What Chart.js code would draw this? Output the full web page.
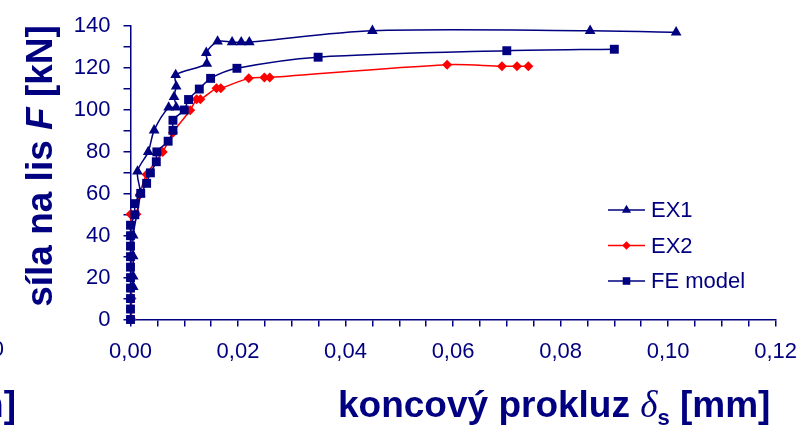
<!DOCTYPE html>
<html><head><meta charset="utf-8">
<script src="https://cdn.jsdelivr.net/npm/chart.js@4/dist/chart.umd.min.js"></script>
<style>html,body{margin:0;padding:0;background:#fff;overflow:hidden}</style>
</head><body>
<canvas id="c" width="809" height="425" style="display:block;width:809px;height:425px"></canvas>
<script>
// ---- data ----
const seriesNames = ['EX1', 'EX2', 'FE model'];

const ex1Slip  = [0.0005, 0.0005, 0.0005, 0.0005, 0.0018, 0.0013, 0.0033, 0.0044, 0.0071, 0.0085, 0.0081, 0.0085, 0.0084, 0.0142, 0.0141, 0.0162, 0.0189, 0.0206, 0.0221, 0.0450, 0.0855, 0.1015];
const ex1Force = [15.6, 20.6, 30.2, 40.2, 60.2, 70.7, 80.0, 90.3, 101.2, 101.2, 106.2, 111.3, 116.7, 122.1, 127.3, 132.7, 132.4, 132.4, 132.4, 137.8, 137.8, 137.1];

const ex2Slip  = [0.0002, 0.0002, 0.0002, 0.0002, 0.0002, 0.0002, 0.0000, 0.0011, 0.0017, 0.0030, 0.0060, 0.0079, 0.0111, 0.0123, 0.0130, 0.0160, 0.0168, 0.0220, 0.0249, 0.0259, 0.0589, 0.0691, 0.0719, 0.0740];
const ex2Force = [0, 10, 15, 20, 30, 40, 50.2, 50.2, 59.6, 69.2, 80.0, 89.2, 99.9, 105.1, 105.1, 110.4, 110.4, 115.1, 115.5, 115.5, 121.6, 120.9, 120.9, 120.9];

const feSlip  = [0, 0, 0, 0, 0, 0, 0, 0, 0, 0, 0.0008, 0.0008, 0.0019, 0.0030, 0.0037, 0.0048, 0.0049, 0.0070, 0.0079, 0.0079, 0.0100, 0.0108, 0.0128, 0.0149, 0.0198, 0.0349, 0.0700, 0.0900];
const feForce = [0, 5, 10, 15, 20, 25, 30, 35, 40, 45, 50, 55.3, 60.2, 65, 70, 75.3, 80, 85.1, 90.3, 95.1, 100, 105, 110, 115.1, 119.9, 125.2, 128.3, 129.0];

const xTickLabels = ['0,00', '0,02', '0,04', '0,06', '0,08', '0,10', '0,12'];
const yTickLabels = ['0', '20', '40', '60', '80', '100', '120', '140'];
const yTitleParts = ['síla na lis ', 'F', ' [kN]'];
const xTitleParts = ['koncový prokluz ', 'δ', 's', ' [mm]'];

// ---- styles ----
const NAVY = '#000080';
const RED = '#FF0000';
const FAM = "'Liberation Sans', Arial, Helvetica, sans-serif";
const SERIF = "'Liberation Serif', 'Times New Roman', serif";

function pts(xs, ys) { return xs.map((x, i) => ({ x: x, y: ys[i] })); }

const seriesStyle = [
  { color: NAVY, marker: 'triangle', r: 6.2, order: 1 },
  { color: RED,  marker: 'rectRot',  r: 5.0, order: 2 },
  { color: NAVY, marker: 'rect',     r: 6.3, order: 0 }
];
const seriesData = [pts(ex1Slip, ex1Force), pts(ex2Slip, ex2Force), pts(feSlip, feForce)];

const datasets = seriesNames.map((name, i) => ({
  label: name,
  data: seriesData[i],
  borderColor: seriesStyle[i].color,
  backgroundColor: seriesStyle[i].color,
  pointBackgroundColor: seriesStyle[i].color,
  pointBorderColor: seriesStyle[i].color,
  pointBorderWidth: 0,
  pointStyle: seriesStyle[i].marker,
  pointRadius: seriesStyle[i].r,
  borderWidth: 1.5,
  tension: 0.3,
  fill: false,
  clip: false,
  order: seriesStyle[i].order
}));

function drawMarker(ctx, style, x, y, r, color) {
  ctx.save();
  ctx.fillStyle = color;
  ctx.beginPath();
  if (style === 'triangle') {
    let rad = 0;
    ctx.moveTo(x + Math.sin(rad) * r, y - Math.cos(rad) * r);
    rad += 2 * Math.PI / 3;
    ctx.lineTo(x + Math.sin(rad) * r, y - Math.cos(rad) * r);
    rad += 2 * Math.PI / 3;
    ctx.lineTo(x + Math.sin(rad) * r, y - Math.cos(rad) * r);
  } else if (style === 'rect') {
    const s = Math.SQRT1_2 * r;
    ctx.rect(x - s, y - s, 2 * s, 2 * s);
  } else {
    ctx.moveTo(x - r, y); ctx.lineTo(x, y - r); ctx.lineTo(x + r, y); ctx.lineTo(x, y + r);
  }
  ctx.closePath();
  ctx.fill();
  ctx.restore();
}

const decor = {
  id: 'decor',
  afterDraw(chart) {
    const ctx = chart.ctx;
    ctx.save();
    ctx.fillStyle = NAVY;
    // legend
    const rows = [210, 245.5, 281];
    seriesNames.forEach((name, i) => {
      const y = rows[i];
      ctx.strokeStyle = seriesStyle[i].color;
      ctx.lineWidth = 1.5;
      ctx.beginPath(); ctx.moveTo(608, y); ctx.lineTo(645, y); ctx.stroke();
      drawMarker(ctx, seriesStyle[i].marker, 626.5, y, seriesStyle[i].r * 0.85, seriesStyle[i].color);
      ctx.fillStyle = NAVY;
      ctx.font = '22px ' + FAM;
      ctx.textAlign = 'left';
      ctx.textBaseline = 'middle';
      ctx.fillText(name, 651, y + 1);
    });

    // y axis title (rotated)
    const fB = 'bold 37px ' + FAM;
    const fBI = 'italic bold 37px ' + FAM;
    const yFonts = [fB, fBI, fB];
    let widths = yTitleParts.map((t, i) => { ctx.font = yFonts[i]; return ctx.measureText(t).width; });
    let total = widths.reduce((a, b) => a + b, 0);
    ctx.save();
    ctx.translate(52, 166);
    ctx.rotate(-Math.PI / 2);
    ctx.textAlign = 'left';
    ctx.textBaseline = 'alphabetic';
    let x = -total / 2;
    yTitleParts.forEach((t, i) => { ctx.font = yFonts[i]; ctx.fillText(t, x, 0); x += widths[i]; });
    ctx.restore();

    // x axis title
    const xFonts = [fB, 'italic 37px ' + SERIF, 'bold 22px ' + FAM, fB];
    const xOff = [0, 0, 8, 0];
    ctx.textAlign = 'left';
    ctx.textBaseline = 'alphabetic';
    x = 338;
    xTitleParts.forEach((t, i) => {
      ctx.font = xFonts[i];
      ctx.fillText(t, x, 417 + xOff[i]);
      x += ctx.measureText(t).width;
    });

    // fragments of the neighbouring chart cut by the left edge
    ctx.font = '22px ' + FAM;
    ctx.textAlign = 'right';
    ctx.fillText(yTickLabels[0], 4, 356);
    ctx.font = fB;
    ctx.fillText(xTitleParts[3].trim(), 16, 417);
    ctx.restore();
  }
};

new Chart(document.getElementById('c'), {
  type: 'line',
  data: { datasets: datasets },
  options: {
    responsive: false,
    animation: false,
    devicePixelRatio: 1,
    layout: { padding: { top: 17, right: 26, left: 0, bottom: 0 } },
    plugins: { legend: { display: false }, tooltip: { enabled: false } },
    scales: {
      x: {
        type: 'linear', min: 0, max: 0.12,
        afterFit(s) { s.height = 105.5; },
        border: { color: NAVY, width: 1.5 },
        grid: { drawOnChartArea: false, drawTicks: true, tickLength: 7, color: NAVY, lineWidth: 1.5 },
        ticks: {
          stepSize: 0.005, autoSkip: false, maxRotation: 0, minRotation: 0,
          color: NAVY, font: { family: FAM, size: 22 }, padding: 12,
          callback: (v, i) => (i % 4 === 0 ? xTickLabels[i / 4] : '')
        }
      },
      y: {
        type: 'linear', min: 0, max: 140,
        afterFit(s) { s.width = 130.5; },
        border: { color: NAVY, width: 1.5 },
        grid: { drawOnChartArea: false, drawTicks: true, tickLength: 7, color: NAVY, lineWidth: 1.5 },
        ticks: {
          stepSize: 10, autoSkip: false,
          color: NAVY, font: { family: FAM, size: 22 }, padding: 13,
          callback: (v) => (Math.round(v) % 20 === 0 ? yTickLabels[Math.round(v) / 20] : '')
        }
      }
    }
  },
  plugins: [decor]
});
</script>
</body></html>
